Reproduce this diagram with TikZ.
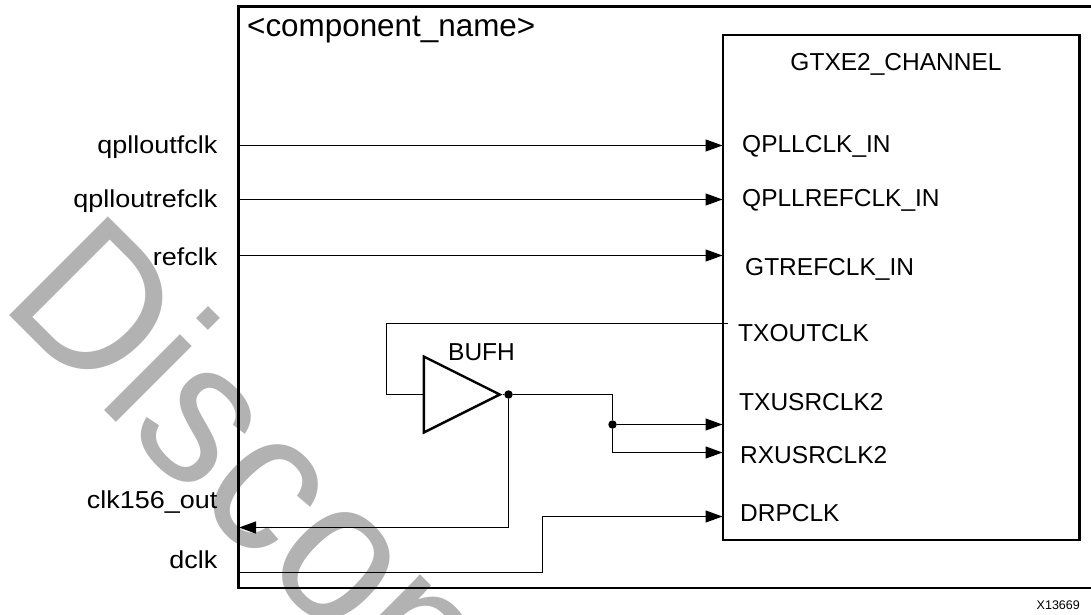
\documentclass[tikz,border=0pt]{standalone}
\usepackage{fontspec}
\setmainfont{Liberation Sans}
\newfontfamily\lblfont[FakeStretch=1.1]{Liberation Sans}
\newfontfamily\wmkfont[FakeStretch=0.94]{Liberation Sans}
\usetikzlibrary{arrows.meta,shapes.geometric}

\begin{document}
\begin{tikzpicture}[
    x=1pt, y=-1pt,
    wall/.style={line width=2.4pt},
    blk/.style={draw, line width=2.4pt, minimum width=356.5pt, minimum height=505pt, inner sep=0pt},
    sig/.style={line width=1.2pt},
    arr/.style={sig, -{Triangle[length=17pt, width=12pt]}, shorten >=0.5pt},
    lbl/.style={font=\lblfont\fontsize{24.5}{28}\selectfont, inner sep=0pt, anchor=base east},
    prt/.style={font=\fontsize{24.5}{28}\selectfont, inner sep=0pt, anchor=base west},
    jnt/.style={circle, fill=black, minimum size=8.5pt, inner sep=0pt},
    wmk/.style={font=\wmkfont\fontsize{203}{210}\selectfont, text=black!30, inner sep=0pt, anchor=base west, rotate=-45}
]
\useasboundingbox (0,0) rectangle (1091,614);

% watermark, cut off by the page
\begin{scope}
\clip (0,0) rectangle (1091,614);
\node[wmk] (wmark) at (-2,304) {Discon};
\end{scope}

% outer wrapper, open at the page edge
\coordinate (wtl) at (238.5,6.5);
\coordinate (wbl) at (238.5,588);
\draw[wall] (1091,6.5) -- (wtl) -- (wbl) -- (1091,588);
\node[prt, font=\fontsize{31.4}{34}\selectfont] (comp) at (247,36) {<component\_name>};

% channel block
\node[blk] (gtx) at (901.25,287.5) {};
\node[prt, anchor=base] (gtxname) at (896,70.7) {GTXE2\_CHANNEL};

% ports
\node[prt] (qpllclk) at (742,152.7) {QPLLCLK\_IN};
\node[prt] (qpllref) at (742,206.7) {QPLLREFCLK\_IN};
\node[prt] (gtref) at (745,275) {GTREFCLK\_IN};
\node[prt] (txout) at (738,341.7) {TXOUTCLK};
\node[prt] (txusr) at (739,410) {TXUSRCLK2};
\node[prt] (rxusr) at (740,463) {RXUSRCLK2};
\node[prt] (drp) at (740,521.7) {DRPCLK};

% pins
\coordinate (pqpllclk) at (723,145.5);
\coordinate (pqpllref) at (723,199.5);
\coordinate (pgtref) at (723,255.5);
\coordinate (ptxout) at (728,323.5);
\coordinate (ptxusr) at (723,424.5);
\coordinate (prxusr) at (723,452.5);
\coordinate (pdrp) at (723,516.5);

% outside signals
\node[lbl] (sfclk) at (217.5,153) {qplloutfclk};
\node[lbl] (srefclk) at (217.5,207) {qplloutrefclk};
\node[lbl] (rclk) at (217.5,265) {refclk};
\node[lbl] (cout) at (217.5,508) {clk156\_out};
\node[lbl] (dclk) at (217.5,568) {dclk};

\draw[arr] (wtl |- pqpllclk) -- (pqpllclk);
\draw[arr] (wtl |- pqpllref) -- (pqpllref);
\draw[arr] (wtl |- pgtref) -- (pgtref);

% buffer
\node[draw, line width=2.4pt, isosceles triangle, isosceles triangle apex angle=53.13, isosceles triangle stretches, minimum width=76pt, minimum height=76pt, inner sep=0pt, anchor=apex] (bufh) at (502.5,394.5) {};
\node[prt] (bufname) at (448,360.7) {BUFH};
\node[jnt] (jout) at (508.5,394.5) {};
\node[jnt] (jusr) at (612.5,424.5) {};

\draw[sig] (ptxout) -- (386.5,323.5) |- (bufh.lower side);
\draw[sig] (bufh.apex) -- (jout);
\draw[sig] (jout) -| (jusr);
\draw[arr] (jusr) -- (ptxusr);
\draw[arr] (jusr) |- (prxusr);
\draw[arr] (jout) |- (wtl |- 0,527.5);
\draw[arr] (wtl |- 0,572.5) -| (542.5,516.5) -- (pdrp);

\node[lbl, font=\fontsize{12.5}{14}\selectfont] (figid) at (1080,609.3) {X13669};
\end{tikzpicture}
\end{document}
